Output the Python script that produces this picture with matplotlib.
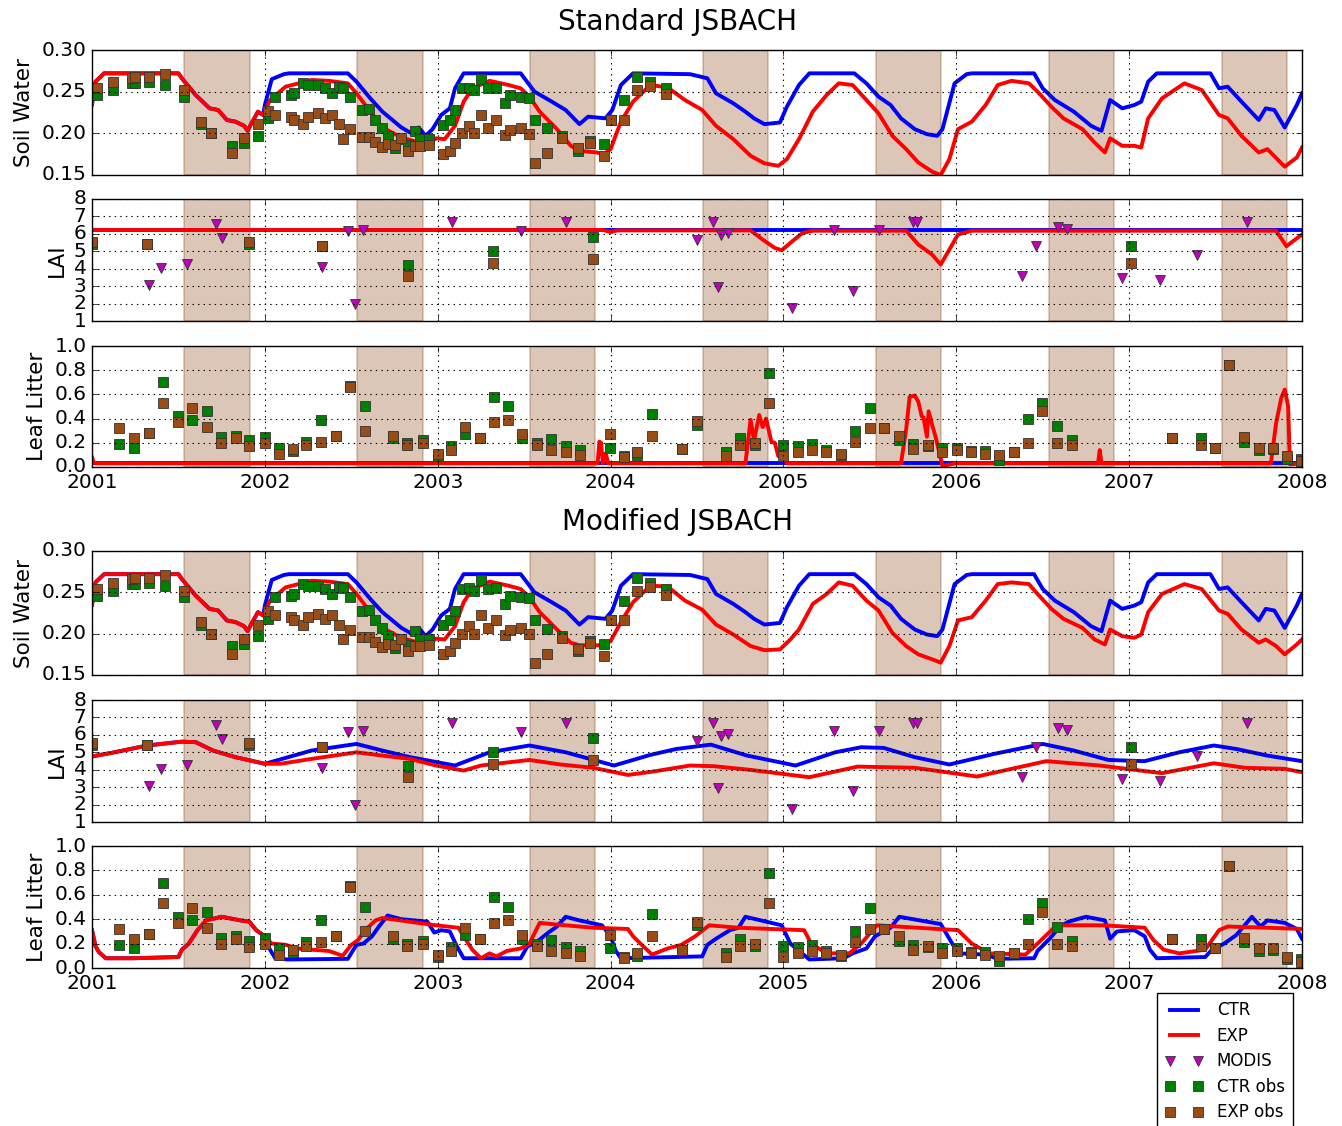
import numpy as np
import matplotlib
matplotlib.use('Agg')
import matplotlib.pyplot as plt
from matplotlib.lines import Line2D

plt.style.use('classic')
plt.rcParams['font.family'] = ['DejaVu Sans']

# ---------------- data (decimal years) ----------------
years = [2001, 2002, 2003, 2004, 2005, 2006, 2007, 2008]
dry_start = 0.535   # shaded season, fraction of the year
dry_end = 0.912

# Soil water, CTR (same in both experiments)
sw_ctr_t = [2001.00, 2001.02, 2001.07, 2001.50, 2001.52, 2001.60, 2001.68, 2001.73, 2001.78, 2001.83,
            2001.88, 2001.90, 2001.92, 2001.96, 2001.99, 2002.00, 2002.04, 2002.11, 2002.14, 2002.48,
            2002.53, 2002.61, 2002.68, 2002.79, 2002.84, 2002.89, 2002.93, 2002.97, 2003.02, 2003.07,
            2003.10, 2003.15, 2003.48, 2003.56, 2003.66, 2003.74, 2003.82, 2003.87, 2003.97, 2004.01,
            2004.06, 2004.13, 2004.46, 2004.56, 2004.61, 2004.71, 2004.78, 2004.83, 2004.89, 2004.98,
            2005.02, 2005.09, 2005.15, 2005.41, 2005.48, 2005.55, 2005.62, 2005.68, 2005.76, 2005.83,
            2005.89, 2005.92, 2005.99, 2006.06, 2006.09, 2006.45, 2006.50, 2006.57, 2006.68, 2006.78,
            2006.84, 2006.89, 2006.96, 2007.03, 2007.07, 2007.11, 2007.16, 2007.47, 2007.52, 2007.57,
            2007.65, 2007.75, 2007.79, 2007.84, 2007.90, 2007.97, 2008.00]
sw_ctr_v = [0.235, 0.262, 0.272, 0.272, 0.266, 0.246, 0.230, 0.228, 0.216, 0.214,
            0.209, 0.203, 0.211, 0.226, 0.222, 0.234, 0.265, 0.271, 0.272, 0.272,
            0.262, 0.242, 0.226, 0.207, 0.201, 0.207, 0.197, 0.205, 0.222, 0.230,
            0.254, 0.272, 0.272, 0.250, 0.238, 0.228, 0.211, 0.220, 0.218, 0.228,
            0.258, 0.272, 0.271, 0.266, 0.248, 0.236, 0.226, 0.218, 0.211, 0.213,
            0.232, 0.258, 0.272, 0.272, 0.260, 0.244, 0.234, 0.218, 0.205, 0.199,
            0.197, 0.205, 0.260, 0.271, 0.272, 0.272, 0.254, 0.240, 0.226, 0.209,
            0.203, 0.240, 0.230, 0.234, 0.238, 0.262, 0.272, 0.272, 0.254, 0.256,
            0.238, 0.216, 0.230, 0.228, 0.207, 0.234, 0.248]

# Soil water, EXP, standard JSBACH
sw_std_exp_t = [2001.00, 2001.02, 2001.07, 2001.50, 2001.52, 2001.60, 2001.68, 2001.73, 2001.78, 2001.83,
                2001.88, 2001.90, 2001.92, 2001.96, 2001.99, 2002.03, 2002.12, 2002.27, 2002.37, 2002.48,
                2002.53, 2002.61, 2002.68, 2002.79, 2002.89, 2002.94, 2002.99, 2003.04, 2003.10, 2003.15,
                2003.20, 2003.30, 2003.41, 2003.48, 2003.53, 2003.59, 2003.69, 2003.77, 2003.82, 2003.92,
                2003.96, 2004.00, 2004.06, 2004.13, 2004.23, 2004.33, 2004.43, 2004.53, 2004.61, 2004.71,
                2004.81, 2004.89, 2004.97, 2005.02, 2005.09, 2005.17, 2005.25, 2005.32, 2005.40, 2005.48,
                2005.55, 2005.63, 2005.71, 2005.78, 2005.86, 2005.91, 2005.96, 2006.01, 2006.09, 2006.17,
                2006.24, 2006.32, 2006.42, 2006.47, 2006.55, 2006.62, 2006.73, 2006.80, 2006.86, 2006.89,
                2006.96, 2007.03, 2007.07, 2007.11, 2007.19, 2007.32, 2007.42, 2007.52, 2007.57, 2007.65,
                2007.75, 2007.80, 2007.90, 2007.97, 2008.00]
sw_std_exp_v = [0.235, 0.262, 0.272, 0.272, 0.266, 0.246, 0.230, 0.228, 0.216, 0.214,
                0.209, 0.203, 0.211, 0.226, 0.222, 0.240, 0.256, 0.264, 0.263, 0.260,
                0.248, 0.226, 0.207, 0.195, 0.189, 0.186, 0.194, 0.193, 0.209, 0.238,
                0.254, 0.263, 0.258, 0.254, 0.244, 0.226, 0.205, 0.185, 0.179, 0.177,
                0.175, 0.181, 0.214, 0.238, 0.258, 0.255, 0.240, 0.228, 0.209, 0.193,
                0.173, 0.164, 0.161, 0.169, 0.193, 0.226, 0.246, 0.260, 0.258, 0.240,
                0.224, 0.197, 0.181, 0.165, 0.154, 0.150, 0.169, 0.205, 0.214, 0.234,
                0.258, 0.263, 0.260, 0.250, 0.232, 0.218, 0.205, 0.189, 0.177, 0.194,
                0.185, 0.185, 0.183, 0.218, 0.242, 0.260, 0.252, 0.222, 0.218, 0.197,
                0.177, 0.181, 0.160, 0.171, 0.183]

# Soil water, EXP, modified JSBACH
sw_mod_exp_t = [2001.00, 2001.02, 2001.07, 2001.50, 2001.52, 2001.60, 2001.68, 2001.73, 2001.78, 2001.83,
                2001.88, 2001.90, 2001.92, 2001.96, 2001.99, 2002.03, 2002.12, 2002.27, 2002.37, 2002.48,
                2002.53, 2002.61, 2002.68, 2002.79, 2002.89, 2002.94, 2002.99, 2003.04, 2003.10, 2003.15,
                2003.20, 2003.30, 2003.41, 2003.48, 2003.53, 2003.59, 2003.69, 2003.77, 2003.82, 2003.96,
                2004.00, 2004.06, 2004.13, 2004.23, 2004.33, 2004.43, 2004.53, 2004.61, 2004.71, 2004.81,
                2004.89, 2004.98, 2005.04, 2005.09, 2005.17, 2005.25, 2005.32, 2005.40, 2005.48, 2005.55,
                2005.63, 2005.71, 2005.78, 2005.86, 2005.91, 2005.96, 2006.01, 2006.09, 2006.17, 2006.24,
                2006.32, 2006.42, 2006.47, 2006.55, 2006.62, 2006.73, 2006.80, 2006.86, 2006.89, 2006.96,
                2007.03, 2007.07, 2007.11, 2007.19, 2007.32, 2007.42, 2007.52, 2007.57, 2007.65, 2007.75,
                2007.79, 2007.85, 2007.90, 2007.97, 2008.00]
sw_mod_exp_v = [0.235, 0.262, 0.272, 0.272, 0.266, 0.246, 0.230, 0.228, 0.216, 0.214,
                0.209, 0.203, 0.211, 0.226, 0.222, 0.240, 0.256, 0.264, 0.263, 0.260,
                0.248, 0.226, 0.207, 0.195, 0.189, 0.186, 0.194, 0.193, 0.209, 0.238,
                0.254, 0.263, 0.258, 0.254, 0.244, 0.226, 0.205, 0.189, 0.186, 0.186,
                0.191, 0.214, 0.238, 0.258, 0.257, 0.240, 0.229, 0.211, 0.199, 0.185,
                0.180, 0.181, 0.193, 0.205, 0.236, 0.248, 0.262, 0.258, 0.240, 0.228,
                0.201, 0.185, 0.175, 0.169, 0.165, 0.185, 0.216, 0.220, 0.240, 0.260,
                0.262, 0.260, 0.248, 0.230, 0.218, 0.207, 0.193, 0.187, 0.205, 0.197,
                0.195, 0.199, 0.226, 0.248, 0.260, 0.254, 0.228, 0.224, 0.205, 0.189,
                0.193, 0.185, 0.175, 0.187, 0.193]

# Soil water observations
sw_obs_t = [2001.03, 2001.12, 2001.23, 2001.25, 2001.33, 2001.42, 2001.53, 2001.63, 2001.69, 2001.81,
            2001.88, 2001.96, 2002.02, 2002.06, 2002.15, 2002.17, 2002.22, 2002.25, 2002.31, 2002.35,
            2002.39, 2002.43, 2002.45, 2002.49, 2002.56, 2002.60, 2002.64, 2002.68, 2002.71, 2002.75,
            2002.79, 2002.83, 2002.87, 2002.90, 2002.95, 2003.03, 2003.07, 2003.10, 2003.14, 2003.18,
            2003.21, 2003.25, 2003.29, 2003.34, 2003.39, 2003.42, 2003.48, 2003.53, 2003.56, 2003.63,
            2003.72, 2003.81, 2003.88, 2003.96, 2004.00, 2004.08, 2004.15, 2004.23, 2004.32]
sw_ctr_obs = [0.246, 0.252, 0.260, 0.260, 0.261, 0.258, 0.244, 0.211, 0.200, 0.185,
              0.188, 0.197, 0.218, 0.244, 0.246, 0.248, 0.260, 0.258, 0.258, 0.254,
              0.248, 0.256, 0.255, 0.244, 0.228, 0.229, 0.216, 0.207, 0.197, 0.183,
              0.193, 0.186, 0.203, 0.193, 0.193, 0.210, 0.216, 0.228, 0.254, 0.255,
              0.252, 0.265, 0.254, 0.255, 0.236, 0.246, 0.244, 0.243, 0.216, 0.206,
              0.197, 0.179, 0.191, 0.187, 0.216, 0.240, 0.267, 0.261, 0.254]
sw_exp_obs = [0.254, 0.261, 0.266, 0.267, 0.267, 0.271, 0.252, 0.214, 0.200, 0.176,
              0.194, 0.211, 0.227, 0.222, 0.220, 0.216, 0.211, 0.220, 0.224, 0.218,
              0.222, 0.211, 0.193, 0.205, 0.196, 0.196, 0.190, 0.184, 0.187, 0.186,
              0.194, 0.179, 0.185, 0.185, 0.186, 0.175, 0.179, 0.189, 0.200, 0.209,
              0.200, 0.222, 0.207, 0.216, 0.198, 0.204, 0.207, 0.199, 0.165, 0.176,
              0.195, 0.182, 0.189, 0.173, 0.216, 0.216, 0.252, 0.257, 0.247]

# LAI, standard JSBACH
lai_std_ctr_t = [2001.00, 2008.00]
lai_std_ctr_v = [6.22, 6.22]
lai_std_exp_t = [2001.00, 2003.96, 2004.00, 2004.04, 2004.81, 2004.88, 2004.95, 2004.99, 2005.04, 2005.11,
                 2005.17, 2005.71, 2005.78, 2005.86, 2005.91, 2005.96, 2006.01, 2006.09, 2007.85, 2007.91,
                 2007.96, 2008.00]
lai_std_exp_v = [6.22, 6.22, 6.10, 6.20, 6.20, 5.67, 5.19, 5.06, 5.48, 6.05,
                 6.18, 6.18, 5.39, 4.81, 4.24, 5.10, 5.96, 6.18, 6.18, 5.29,
                 5.67, 5.96]

# LAI, modified JSBACH
lai_mod_ctr_t = [2001.00, 2001.13, 2001.32, 2001.52, 2001.60, 2001.70, 2001.83, 2002.00, 2002.27, 2002.53,
                 2002.68, 2002.84, 2003.10, 2003.30, 2003.53, 2003.74, 2004.02, 2004.23, 2004.38, 2004.58,
                 2004.79, 2005.07, 2005.30, 2005.45, 2005.58, 2005.76, 2005.96, 2006.22, 2006.50, 2006.68,
                 2006.88, 2007.09, 2007.29, 2007.49, 2007.62, 2007.80, 2008.00]
lai_mod_ctr_v = [4.76, 5.00, 5.39, 5.61, 5.58, 5.10, 4.72, 4.34, 5.10, 5.48,
                 5.10, 4.72, 4.24, 5.00, 5.39, 5.00, 4.24, 4.85, 5.19, 5.44,
                 4.81, 4.24, 5.00, 5.29, 5.25, 4.72, 4.30, 4.91, 5.48, 5.10,
                 4.56, 4.49, 5.00, 5.39, 5.19, 4.81, 4.49]
lai_mod_exp_t = [2001.00, 2001.13, 2001.32, 2001.52, 2001.60, 2001.70, 2001.83, 2002.00, 2002.09, 2002.27,
                 2002.53, 2002.68, 2002.84, 2002.99, 2003.15, 2003.25, 2003.53, 2003.71, 2003.90, 2004.10,
                 2004.25, 2004.46, 2004.60, 2004.81, 2005.15, 2005.43, 2005.76, 2006.12, 2006.52, 2006.83,
                 2007.19, 2007.49, 2007.67, 2007.90, 2008.00]
lai_mod_exp_v = [4.76, 5.00, 5.39, 5.61, 5.58, 5.10, 4.72, 4.34, 4.34, 4.62,
                 5.00, 4.81, 4.62, 4.24, 3.95, 4.24, 4.56, 4.30, 4.11, 3.70,
                 3.90, 4.24, 4.20, 3.99, 3.57, 4.18, 4.11, 3.61, 4.49, 4.24,
                 3.80, 4.37, 4.11, 4.05, 3.86]

# LAI observations
modis_t = [2001.33, 2001.40, 2001.55, 2001.72, 2001.75, 2002.33, 2002.48, 2002.52, 2002.57, 2003.08,
           2003.48, 2003.74, 2004.50, 2004.59, 2004.62, 2004.64, 2004.68, 2005.05, 2005.29, 2005.40,
           2005.55, 2005.75, 2005.77, 2006.38, 2006.46, 2006.59, 2006.64, 2006.96, 2007.18, 2007.39,
           2007.68]
modis_v = [3.04, 4.05, 4.28, 6.59, 5.77, 4.11, 6.19, 1.95, 6.24, 6.68,
           6.19, 6.68, 5.67, 6.66, 2.96, 5.96, 6.05, 1.76, 6.24, 2.75,
           6.24, 6.66, 6.66, 3.57, 5.29, 6.38, 6.28, 3.48, 3.34, 4.77,
           6.66]
lai_obs_t = [2001.00, 2001.32, 2001.91, 2002.33, 2002.83, 2003.32, 2003.90, 2007.01]
lai_ctr_obs = [5.44, 5.44, 5.39, 5.33, 4.24, 5.04, 5.82, 5.29]
lai_exp_obs = [5.52, 5.44, 5.54, 5.33, 3.61, 4.34, 4.58, 4.34]

# Leaf litter, standard JSBACH
ll_std_ctr_t = [2001.00, 2008.00]
ll_std_ctr_v = [0.03, 0.03]
ll_std_exp_t = [2001.00, 2001.01, 2001.02, 2003.925, 2003.935, 2003.945, 2003.955, 2003.965, 2003.975, 2003.985,
                2004.78, 2004.81, 2004.83, 2004.86, 2004.88, 2004.90, 2004.93, 2004.95, 2004.97, 2004.99,
                2005.02, 2005.68, 2005.71, 2005.73, 2005.76, 2005.78, 2005.80, 2005.81, 2005.83, 2005.84,
                2005.86, 2005.88, 2005.90, 2005.92, 2006.00, 2006.82, 2006.83, 2006.84, 2007.82, 2007.85,
                2007.88, 2007.90, 2007.92, 2007.93, 2008.00]
ll_std_exp_v = [0.08, 0.04, 0.03, 0.03, 0.21, 0.20, 0.03, 0.11, 0.10, 0.03,
                0.03, 0.39, 0.22, 0.43, 0.33, 0.40, 0.21, 0.20, 0.09, 0.14,
                0.03, 0.03, 0.31, 0.58, 0.59, 0.54, 0.42, 0.41, 0.25, 0.46,
                0.35, 0.25, 0.13, 0.01, 0.03, 0.03, 0.14, 0.03, 0.03, 0.36,
                0.57, 0.64, 0.50, 0.02, 0.03]

# Leaf litter, modified JSBACH
ll_mod_ctr_t = [2001.00, 2001.02, 2001.04, 2001.08, 2001.24, 2001.50, 2001.52, 2001.56, 2001.61, 2001.66,
                2001.75, 2001.86, 2001.91, 2001.95, 2001.99, 2002.03, 2002.06, 2002.13, 2002.48, 2002.53,
                2002.57, 2002.62, 2002.66, 2002.71, 2002.79, 2002.94, 2002.98, 2003.02, 2003.07, 2003.11,
                2003.15, 2003.48, 2003.52, 2003.56, 2003.64, 2003.69, 2003.74, 2003.82, 2003.95, 2004.00,
                2004.03, 2004.06, 2004.53, 2004.56, 2004.61, 2004.69, 2004.74, 2004.78, 2004.84, 2004.99,
                2005.04, 2005.09, 2005.15, 2005.35, 2005.40, 2005.48, 2005.53, 2005.62, 2005.67, 2005.91,
                2005.96, 2006.01, 2006.17, 2006.24, 2006.45, 2006.47, 2006.54, 2006.60, 2006.65, 2006.75,
                2006.86, 2006.89, 2006.93, 2007.03, 2007.09, 2007.12, 2007.16, 2007.44, 2007.48, 2007.55,
                2007.62, 2007.71, 2007.76, 2007.80, 2007.90, 2007.97, 2008.00]
ll_mod_ctr_v = [0.31, 0.18, 0.13, 0.08, 0.08, 0.09, 0.15, 0.20, 0.31, 0.39,
                0.42, 0.39, 0.38, 0.31, 0.27, 0.15, 0.08, 0.07, 0.075, 0.19,
                0.20, 0.26, 0.34, 0.43, 0.40, 0.38, 0.29, 0.31, 0.30, 0.18,
                0.08, 0.08, 0.18, 0.20, 0.29, 0.34, 0.42, 0.39, 0.35, 0.26,
                0.14, 0.08, 0.095, 0.19, 0.24, 0.31, 0.33, 0.42, 0.40, 0.35,
                0.20, 0.14, 0.07, 0.08, 0.12, 0.16, 0.26, 0.33, 0.42, 0.36,
                0.24, 0.12, 0.11, 0.075, 0.08, 0.14, 0.24, 0.34, 0.38, 0.42,
                0.39, 0.24, 0.30, 0.31, 0.26, 0.15, 0.08, 0.09, 0.15, 0.20,
                0.27, 0.42, 0.34, 0.39, 0.37, 0.32, 0.24]
ll_mod_exp_t = [2001.00, 2001.02, 2001.04, 2001.08, 2001.24, 2001.50, 2001.52, 2001.56, 2001.61, 2001.66,
                2001.75, 2001.86, 2001.91, 2001.95, 2001.99, 2002.04, 2002.12, 2002.19, 2002.27, 2002.37,
                2002.45, 2002.50, 2002.54, 2002.58, 2002.64, 2002.68, 2002.99, 2003.12, 2003.15, 2003.20,
                2003.25, 2003.30, 2003.34, 2003.40, 2003.48, 2003.53, 2003.59, 2003.66, 2003.90, 2004.10,
                2004.13, 2004.18, 2004.24, 2004.33, 2004.41, 2004.49, 2004.57, 2004.74, 2005.12, 2005.16,
                2005.25, 2005.38, 2005.45, 2005.54, 2005.66, 2006.01, 2006.09, 2006.19, 2006.40, 2006.47,
                2006.58, 2006.85, 2007.09, 2007.14, 2007.20, 2007.29, 2007.44, 2007.52, 2007.57, 2007.80,
                2008.00]
ll_mod_exp_v = [0.31, 0.18, 0.13, 0.08, 0.08, 0.09, 0.15, 0.20, 0.31, 0.39,
                0.42, 0.39, 0.38, 0.31, 0.27, 0.20, 0.19, 0.16, 0.15, 0.14,
                0.10, 0.19, 0.23, 0.31, 0.39, 0.41, 0.35, 0.33, 0.26, 0.15,
                0.08, 0.12, 0.095, 0.14, 0.16, 0.20, 0.37, 0.36, 0.33, 0.32,
                0.26, 0.19, 0.11, 0.16, 0.19, 0.26, 0.35, 0.33, 0.31, 0.20,
                0.12, 0.12, 0.20, 0.35, 0.34, 0.31, 0.20, 0.12, 0.11, 0.20,
                0.35, 0.35, 0.33, 0.23, 0.15, 0.12, 0.15, 0.31, 0.34, 0.33,
                0.32]

# Leaf litter observations
ll_obs_t = [2001.155, 2001.243, 2001.328, 2001.413, 2001.495, 2001.578, 2001.663, 2001.746, 2001.831, 2001.908,
            2002.000, 2002.081, 2002.161, 2002.239, 2002.326, 2002.412, 2002.494, 2002.579, 2002.742, 2002.825,
            2002.915, 2003.000, 2003.077, 2003.160, 2003.243, 2003.323, 2003.405, 2003.488, 2003.573, 2003.658,
            2003.741, 2003.826, 2003.994, 2004.076, 2004.154, 2004.239, 2004.415, 2004.500, 2004.668, 2004.750,
            2004.834, 2004.916, 2005.000, 2005.084, 2005.166, 2005.248, 2005.332, 2005.416, 2005.498, 2005.582,
            2005.666, 2005.748, 2005.835, 2005.919, 2006.003, 2006.085, 2006.167, 2006.249, 2006.333, 2006.415,
            2006.497, 2006.580, 2006.667, 2007.249, 2007.413, 2007.494, 2007.578, 2007.663, 2007.750, 2007.831,
            2007.915, 2007.995]
ll_ctr_obs = [0.19, 0.16, 0.28, 0.70, 0.42, 0.39, 0.46, 0.25, 0.26, 0.22,
              0.25, 0.16, 0.13, 0.21, 0.39, 0.26, 0.67, 0.50, 0.24, 0.20,
              0.22, 0.09, 0.17, 0.27, 0.24, 0.58, 0.50, 0.24, 0.20, 0.23,
              0.17, 0.14, 0.16, 0.09, 0.10, 0.44, 0.15, 0.35, 0.12, 0.24,
              0.18, 0.78, 0.18, 0.17, 0.19, 0.14, 0.10, 0.30, 0.49, 0.32,
              0.22, 0.19, 0.17, 0.16, 0.16, 0.13, 0.13, 0.06, 0.12, 0.40,
              0.53, 0.34, 0.22, 0.24, 0.24, 0.16, 0.84, 0.21, 0.14, 0.15,
              0.07, 0.07]
ll_exp_obs = [0.32, 0.24, 0.28, 0.53, 0.37, 0.49, 0.33, 0.20, 0.24, 0.17,
              0.20, 0.11, 0.15, 0.18, 0.21, 0.26, 0.66, 0.30, 0.26, 0.18,
              0.20, 0.11, 0.14, 0.33, 0.24, 0.37, 0.39, 0.27, 0.18, 0.14,
              0.12, 0.10, 0.27, 0.08, 0.12, 0.26, 0.15, 0.38, 0.09, 0.18,
              0.20, 0.53, 0.09, 0.12, 0.14, 0.12, 0.11, 0.21, 0.32, 0.32,
              0.26, 0.15, 0.18, 0.12, 0.14, 0.12, 0.11, 0.10, 0.12, 0.20,
              0.46, 0.20, 0.18, 0.24, 0.18, 0.16, 0.84, 0.25, 0.16, 0.16,
              0.09, 0.05]

# ---------------- figure ----------------
W_PX, H_PX = 1342, 1126
fig = plt.figure(figsize=(W_PX / 100, H_PX / 100), dpi=100, facecolor='white')

left = 92 / W_PX
width = (1302 - 92) / W_PX


def make_ax(top, bottom):
    return fig.add_axes([left, 1 - bottom / H_PX, width, (bottom - top) / H_PX])


LW = 2.8
obs_kw = dict(ls='none', marker='s', ms=7, mec='#333333', mew=0.6)
modis_kw = dict(ls='none', marker='v', ms=7, color='m', mec='#333333', mew=0.6)


def base(ax):
    for y in years[:-1]:
        ax.axvspan(y + dry_start, y + dry_end, facecolor='saddlebrown', edgecolor='saddlebrown',
                   alpha=0.3, lw=1.2, zorder=0)
    ax.set_xlim(2001, 2008)
    ax.set_xticks(years)
    ax.set_xticklabels([str(y) for y in years])
    ax.grid(True, ls=':', color='k', lw=0.8)
    ax.tick_params(labelsize=14.5)


def soil_panel(top, bottom, exp_t, exp_v):
    ax = make_ax(top, bottom)
    base(ax)
    ax.plot(sw_ctr_t, sw_ctr_v, color='b', lw=LW, label='CTR')
    ax.plot(exp_t, exp_v, color='r', lw=LW, label='EXP')
    ax.plot(sw_obs_t, sw_ctr_obs, color='green', mfc='green', **obs_kw)
    ax.plot(sw_obs_t, sw_exp_obs, color='saddlebrown', mfc='#9a4c17', **obs_kw)
    ax.set_ylim(0.15, 0.30)
    ax.set_yticks([0.15, 0.20, 0.25, 0.30])
    ax.set_yticklabels(['0.15', '0.20', '0.25', '0.30'])
    ax.set_ylabel('Soil Water', fontsize=15.5)
    ax.tick_params(labelbottom=False)
    return ax


def lai_panel(top, bottom, ctr_t, ctr_v, exp_t, exp_v):
    ax = make_ax(top, bottom)
    base(ax)
    ax.plot(ctr_t, ctr_v, color='b', lw=LW)
    ax.plot(exp_t, exp_v, color='r', lw=LW)
    ax.plot(modis_t, modis_v, **modis_kw)
    ax.plot(lai_obs_t, lai_ctr_obs, color='green', mfc='green', **obs_kw)
    ax.plot(lai_obs_t, lai_exp_obs, color='saddlebrown', mfc='#9a4c17', **obs_kw)
    ax.set_ylim(1, 8)
    ax.set_yticks(range(1, 9))
    ax.set_ylabel('LAI', fontsize=15.5)
    ax.tick_params(labelbottom=False)
    return ax


def litter_panel(top, bottom, ctr_t, ctr_v, exp_t, exp_v):
    ax = make_ax(top, bottom)
    base(ax)
    ax.plot(ctr_t, ctr_v, color='b', lw=LW)
    ax.plot(exp_t, exp_v, color='r', lw=LW)
    ax.plot(ll_obs_t, ll_ctr_obs, color='green', mfc='green', **obs_kw)
    ax.plot(ll_obs_t, ll_exp_obs, color='saddlebrown', mfc='#9a4c17', **obs_kw)
    ax.set_ylim(0, 1)
    ax.set_yticks(np.arange(0, 1.01, 0.2))
    ax.set_yticklabels(['%.1f' % v for v in np.arange(0, 1.01, 0.2)])
    ax.set_ylabel('Leaf Litter', fontsize=15.5)
    return ax


# standard JSBACH
soil_panel(50, 175, sw_std_exp_t, sw_std_exp_v)
lai_panel(199, 321, lai_std_ctr_t, lai_std_ctr_v, lai_std_exp_t, lai_std_exp_v)
litter_panel(346, 467, ll_std_ctr_t, ll_std_ctr_v, ll_std_exp_t, ll_std_exp_v)

# modified JSBACH
soil_panel(551, 675, sw_mod_exp_t, sw_mod_exp_v)
lai_panel(700, 822, lai_mod_ctr_t, lai_mod_ctr_v, lai_mod_exp_t, lai_mod_exp_v)
litter_panel(846, 968, ll_mod_ctr_t, ll_mod_ctr_v, ll_mod_exp_t, ll_mod_exp_v)

fig.text(677 / W_PX, 1 - 22 / H_PX, 'Standard JSBACH', ha='center', va='center', fontsize=20)
fig.text(677 / W_PX, 1 - 522 / H_PX, 'Modified JSBACH', ha='center', va='center', fontsize=20)

handles = [Line2D([], [], color='b', lw=LW),
           Line2D([], [], color='r', lw=LW),
           Line2D([], [], **modis_kw),
           Line2D([], [], color='green', mfc='green', **obs_kw),
           Line2D([], [], color='saddlebrown', mfc='#9a4c17', **obs_kw)]
labels = ['CTR', 'EXP', 'MODIS', 'CTR obs', 'EXP obs']
fig.legend(handles, labels, loc='upper right', bbox_to_anchor=(1293 / W_PX, 1 - 993 / H_PX),
           numpoints=2, fontsize=12, handlelength=2.3, labelspacing=0.45, borderpad=0.5,
           borderaxespad=0)

fig.savefig('out.png', dpi=100, facecolor='white')
